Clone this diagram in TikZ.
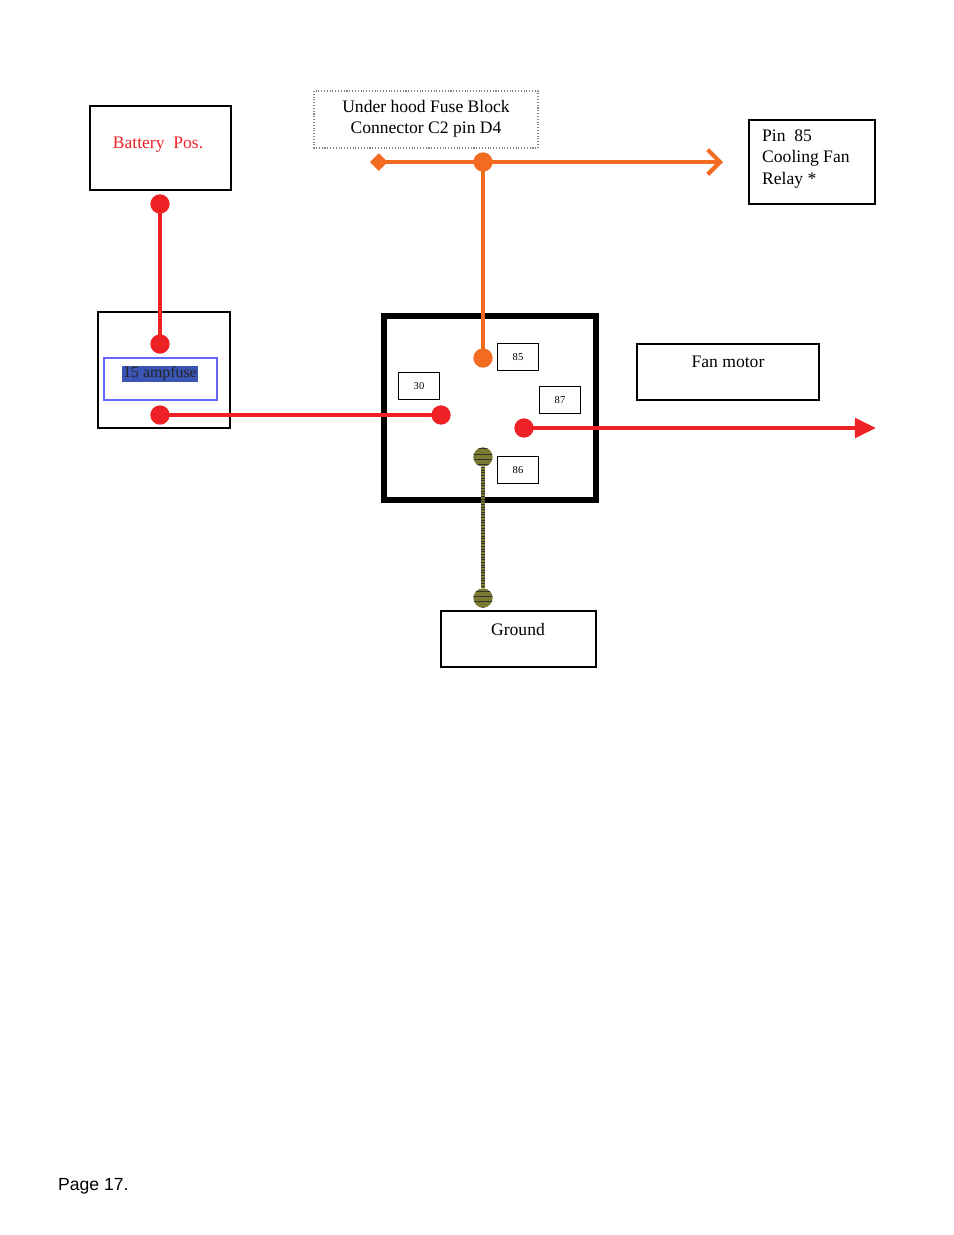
\documentclass[tikz,border=0pt]{standalone}
\usepackage{fontspec}
\setmainfont{Liberation Serif}
\newfontfamily\sansf{Liberation Sans}
\usetikzlibrary{arrows.meta,patterns}
\definecolor{wred}{HTML}{EE2126}
\definecolor{worange}{HTML}{F26B21}
\definecolor{wolive}{HTML}{7A7A30}
\definecolor{hilite}{HTML}{3A55B4}
\tikzset{
    box/.style={draw, line width=0.6pt},
    pin/.style={draw, line width=0.6pt, font=\fontsize{6}{7}\selectfont},
    dotR/.style={circle, fill=wred, inner sep=0pt, minimum size=11pt},
    dotO/.style={circle, fill=worange, inner sep=0pt, minimum size=11pt},
    dotG/.style={circle, fill=wolive, pattern color=black!80, inner sep=0pt, minimum size=11pt,
        postaction={pattern=horizontal lines}},
    wire/.style={line width=2.4pt}
}
\begin{document}
\begin{tikzpicture}[x=0.02cm, y=-0.02cm]
    \useasboundingbox (0,0) rectangle (954,1235);
    % boxes
    \draw[box] (90,106) rectangle (231,190);
    \node[text=wred, font=\fontsize{10}{12}\selectfont] (batt) at (158,145) {Battery\ \ Pos.};
    \draw[box] (98,312) rectangle (230,428);
    \draw[draw=blue!60, line width=0.6pt] (104,358) rectangle (217,400);
    \node[fill=hilite, text=black!85, inner sep=0.5pt, font=\fontsize{9}{10}\selectfont] (fuse) at (160,374) {15 ampfuse};
    \draw[gray, densely dotted, line width=0.6pt] (314,91) rectangle (538,148);
    \node[align=center, font=\fontsize{10}{12}\selectfont] (fuseblk) at (426,119) {Under hood Fuse Block\\Connector C2 pin D4};
    \draw[box] (749,120) rectangle (875,204);
    \node[align=left, anchor=north west, font=\fontsize{10}{12}\selectfont] (relay) at (756,124) {Pin\ \ 85\\Cooling Fan\\Relay *};
    \draw[line width=3.5pt] (384,316) rectangle (596,500);
    \node[pin, minimum width=23pt, minimum height=15pt] (p85) at (518,357) {85};
    \node[pin, minimum width=23pt, minimum height=15pt] (p30) at (419,386) {30};
    \node[pin, minimum width=23pt, minimum height=15pt] (p87) at (560,400) {87};
    \node[pin, minimum width=23pt, minimum height=15pt] (p86) at (518,470) {86};
    \draw[box] (637,344) rectangle (819,400);
    \node[font=\fontsize{10}{12}\selectfont] (fan) at (728,362) {Fan motor};
    \draw[box] (441,611) rectangle (596,667);
    \node[font=\fontsize{10}{12}\selectfont] (gnd) at (518,629) {Ground};
    % terminals
    \node[dotR] (b1) at (160,204) {};
    \node[dotR] (f1) at (160,344) {};
    \node[dotR] (f2) at (160,415) {};
    \node[dotR] (t30) at (441,415) {};
    \node[dotR] (t87) at (524,428) {};
    \coordinate (motor) at (876,428);
    \node[dotO] (t85) at (483,358) {};
    \node[dotO] (tap) at (483,162) {};
    \coordinate (dia) at (370,162);
    \coordinate (toRelay) at (723,162);
    \node[dotG] (t86) at (483,457) {};
    \node[dotG] (g1) at (483,598) {};
    % wires
    \draw[wire, wred] (b1.center) -- (f1.center);
    \draw[wire, wred] (f2.center) -- (t30.center);
    \draw[wire, wred, -{Triangle[length=12pt,width=11pt]}] (t87.center) -- (motor);
    \draw[wire, worange, {Diamond[length=10pt,width=10pt]}-{Straight Barb[length=7pt,width=14pt,line width=2.4pt]}] (dia) -- (toRelay);
    \draw[wire, worange] (tap.center) -- (t85.center);
    \draw[wire, wolive] (t86) -- (g1);
    \draw[line width=2.4pt, black!80, dash pattern=on 0.5pt off 1pt] (t86) -- (g1);
    \node[anchor=west, font=\sansf\fontsize{10}{12}\selectfont] (page) at (52,1186) {Page 17.};
\end{tikzpicture}
\end{document}
